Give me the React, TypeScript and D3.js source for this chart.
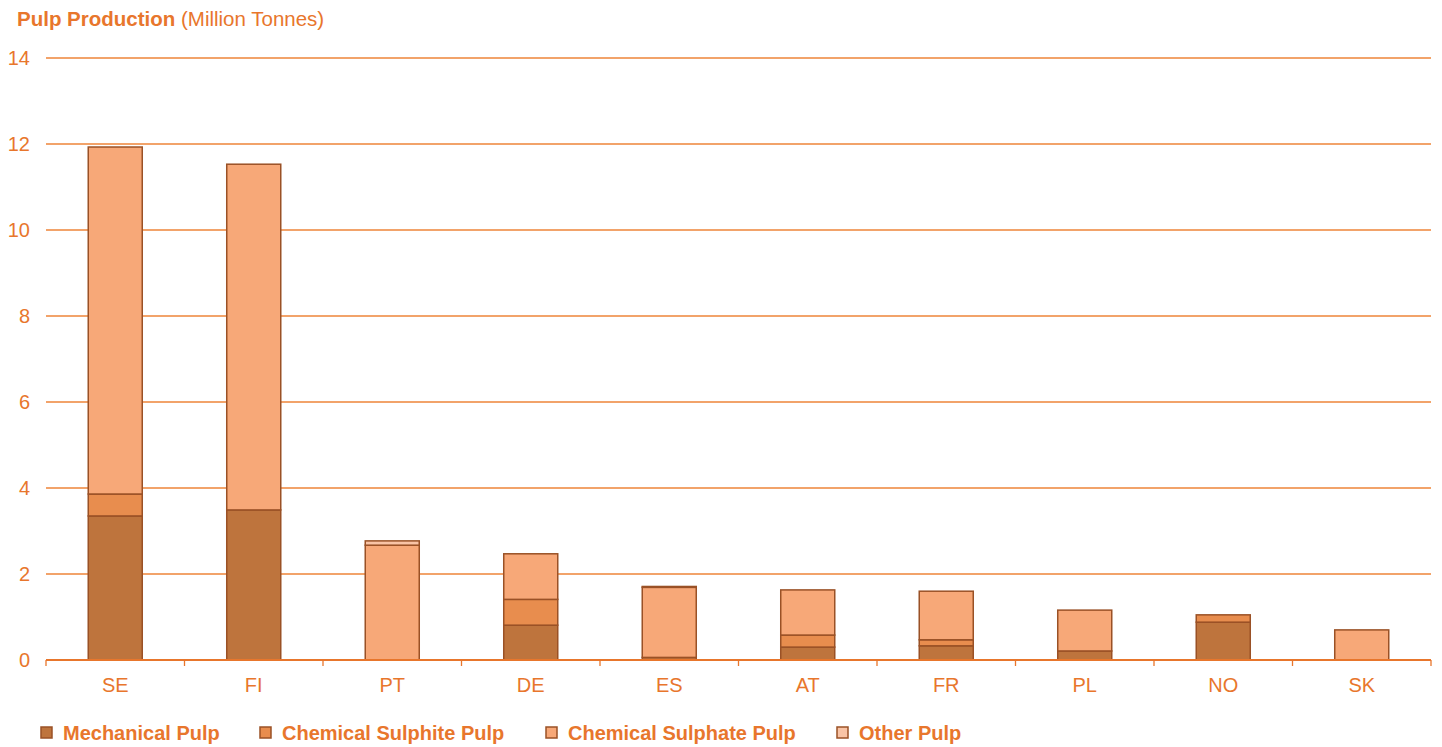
import React from "react";
import * as d3 from "d3";

const countries = ["SE", "FI", "PT", "DE", "ES", "AT", "FR", "PL", "NO", "SK"];
const mechanical = [3.35, 3.49, 0, 0.81, 0.06, 0.3, 0.33, 0.21, 0.88, 0];
const sulphite = [0.51, 0, 0, 0.6, 0, 0.28, 0.14, 0, 0.17, 0];
const sulphate = [8.07, 8.04, 2.67, 1.06, 1.63, 1.05, 1.13, 0.95, 0, 0.7];
const other = [0, 0, 0.1, 0, 0.02, 0, 0, 0, 0, 0];
const seriesNames = ["Mechanical Pulp", "Chemical Sulphite Pulp", "Chemical Sulphate Pulp", "Other Pulp"];
const seriesColors = ["#BE743D", "#E88D4E", "#F7A878", "#F9C4A6"];
const yTicks = [0, 2, 4, 6, 8, 10, 12, 14];

const W = 1442;
const H = 747;
const margin = { left: 46, right: 11, top: 58, bottom: 87 };
const ORANGE = "#E8762C";
const STROKE = "#9A5126";
const FONT = "'Liberation Sans', Arial, sans-serif";

export default function App() {
  const keys = ["mechanical", "sulphite", "sulphate", "other"];
  const rows = countries.map((c, i) => ({
    country: c,
    mechanical: mechanical[i],
    sulphite: sulphite[i],
    sulphate: sulphate[i],
    other: other[i],
  }));
  const stacked = d3.stack<any>().keys(keys)(rows);

  const x = d3
    .scaleBand<string>()
    .domain(countries)
    .range([margin.left, W - margin.right])
    .paddingInner(0.61)
    .paddingOuter(0.305);
  const band = d3.scaleBand<string>().domain(countries).range([margin.left, W - margin.right]);
  const y = d3.scaleLinear().domain([0, 14]).range([H - margin.bottom, margin.top]);
  const y0 = y(0);

  const legendX = [41, 260, 546, 837];

  return (
    <svg width={W} height={H} style={{ position: "absolute", left: 0, top: 0, background: "#fff" }} fontFamily={FONT}>
      <text x={17} y={26} fill={ORANGE} fontSize={20.5}>
        <tspan fontWeight="bold">Pulp Production</tspan>
        <tspan> (Million Tonnes)</tspan>
      </text>
      {yTicks.map((t) => (
        <g key={t}>
          {t > 0 && (
            <line x1={margin.left} x2={W - margin.right} y1={y(t)} y2={y(t)} stroke="#EE8438" strokeWidth={1.3} />
          )}
          <text x={30} y={y(t) + 7} textAnchor="end" fill={ORANGE} fontSize={20}>
            {t}
          </text>
        </g>
      ))}
      {stacked.map((s, si) =>
        s.map((d, i) =>
          d[1] - d[0] > 0 ? (
            <rect
              key={`${si}-${i}`}
              x={x(countries[i])!}
              y={y(d[1])}
              width={x.bandwidth()}
              height={y(d[0]) - y(d[1])}
              fill={seriesColors[si]}
              stroke={STROKE}
              strokeWidth={1.5}
            />
          ) : null
        )
      )}
      <line x1={margin.left} x2={W - margin.right} y1={y0} y2={y0} stroke={ORANGE} strokeWidth={2} />
      {countries.map((c) => (
        <line key={c} x1={band(c)!} x2={band(c)!} y1={y0} y2={y0 + 6} stroke={ORANGE} strokeWidth={1.3} />
      ))}
      <line x1={W - margin.right} x2={W - margin.right} y1={y0} y2={y0 + 6} stroke={ORANGE} strokeWidth={1.3} />
      {countries.map((c) => (
        <text key={c} x={x(c)! + x.bandwidth() / 2} y={692} textAnchor="middle" fill={ORANGE} fontSize={20}>
          {c}
        </text>
      ))}
      {seriesNames.map((n, i) => (
        <g key={n}>
          <rect x={legendX[i]} y={727} width={11} height={11} fill={seriesColors[i]} stroke={STROKE} strokeWidth={1.5} />
          <text x={legendX[i] + 22} y={740} fill={ORANGE} fontSize={20} fontWeight="bold">
            {n}
          </text>
        </g>
      ))}
    </svg>
  );
}
